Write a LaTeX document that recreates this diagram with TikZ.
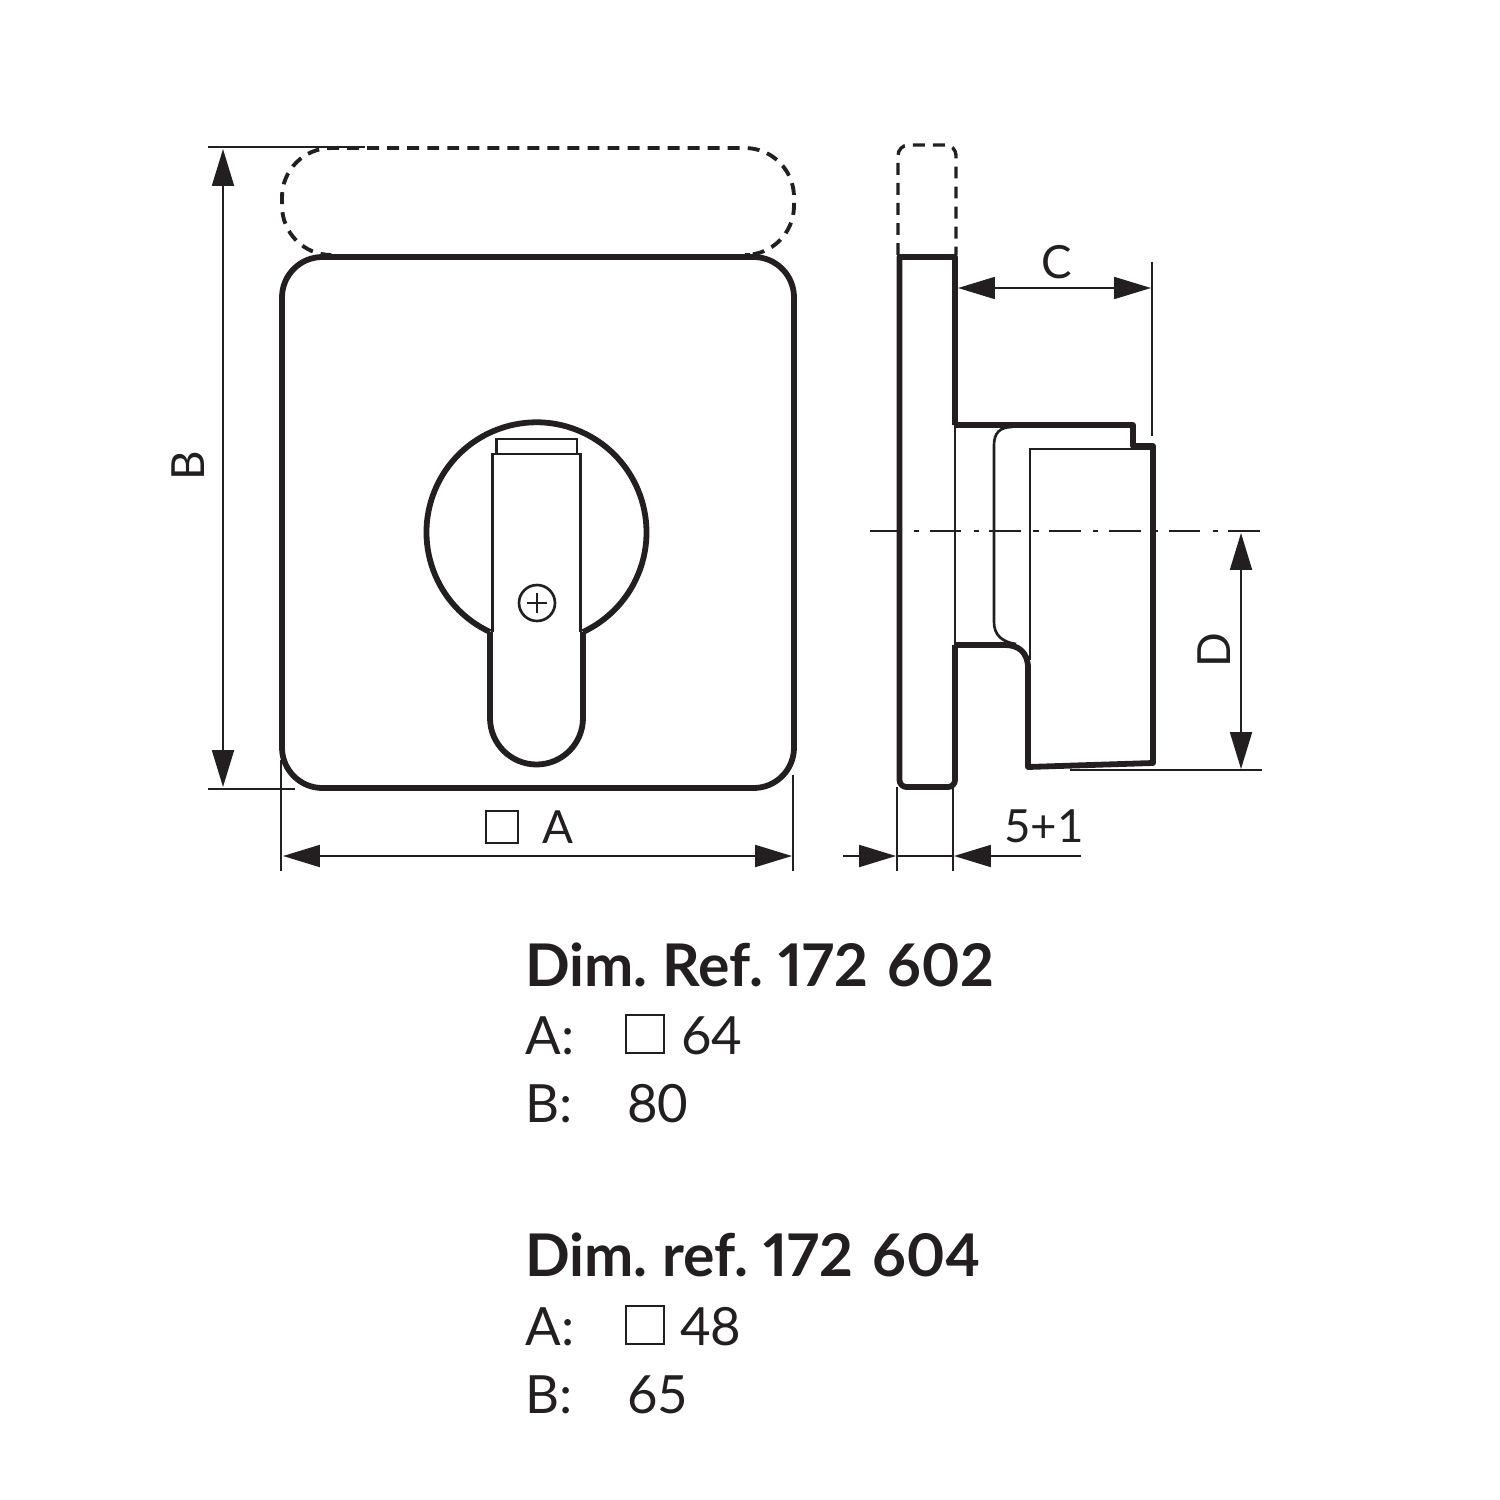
\documentclass[tikz,border=0pt]{standalone}
\usepackage{fontspec}
\setmainfont{Lato}
\newfontfamily\headfont{Lato}[Numbers=Proportional,WordSpace=0.7]
\usetikzlibrary{arrows.meta}
\definecolor{inkc}{HTML}{231F20}
\tikzset{
    outline/.style={draw=inkc, line width=3.3pt, line join=round},
    fineline/.style={draw=inkc, line width=1.5pt},
    hidden/.style={draw=inkc, line width=2.2pt, dash pattern=on 6.8pt off 4.6pt},
    extline/.style={draw=inkc, line width=1pt},
    dimline/.style={draw=inkc, line width=1.1pt, {Triangle[length=21pt,width=12.5pt]}-{Triangle[length=21pt,width=12.5pt]}},
    dimleft/.style={draw=inkc, line width=1.1pt, -{Triangle[length=21pt,width=12.5pt]}},
    axisline/.style={draw=inkc, line width=1.2pt, dash pattern=on 18pt off 7pt on 3pt off 6pt},
    letter/.style={inkc, font=\fontsize{26}{26}\selectfont, inner sep=0pt},
    head/.style={inkc, font=\fontsize{33.5}{33.5}\headfont\bfseries\selectfont, anchor=base west, inner sep=0pt},
    row/.style={inkc, font=\fontsize{30}{30}\selectfont, anchor=base west, inner sep=0pt},
    squarebox/.style={draw=inkc, line width=1.3pt, minimum size=22pt, inner sep=0pt}
}
\begin{document}
\begin{tikzpicture}[x=0.02cm, y=-0.02cm]
    \useasboundingbox (0,0) rectangle (1500,1500);
    % front view
    \draw[outline, rounded corners=23pt] (282,257) rectangle (794,788);
    \draw[hidden, rounded corners=28pt] (330,255) -- (282,255) -- (282,148) -- (794,148) -- (794,255) -- (750,255);
    \draw[outline] (490,632) arc[start angle=115, end angle=425, radius=110];
    \draw[outline] (490,632) -- (490,718) arc[start angle=180, end angle=0, radius=46.5] -- (583,632);
    \draw[fineline] (492.5,632) -- (492.5,454) -- (580.5,454) -- (580.5,632);
    \draw[fineline] (496.5,454) -- (496.5,439) -- (577,439) -- (577,454);
    \draw[fineline] (537,603) circle[radius=18];
    \draw[fineline] (527,603) -- (547,603) (537,593) -- (537,613);
    % side view
    \draw[outline] (955,425) -- (955,257) -- (899.5,257) [rounded corners=4pt] -- (899.5,787) -- (955,787) [sharp corners] -- (955,645);
    \draw[hidden, line width=1.9pt, rounded corners=6pt] (898,255) -- (898,145) -- (956,145) -- (956,255);
    \draw[outline] (955,425) -- (1133,425) -- (1133,446) -- (1153,446) -- (1153,763) -- (1028,767) -- (1028,668)
        .. controls (1028,652) and (1018,645) .. (1005,645) -- (955,645);
    \draw[fineline] (955,425) -- (955,645);
    \draw[fineline] (1012,427) .. controls (1000,427) and (994,433) .. (994,445) -- (994,622)
        .. controls (994,635) and (1002,642) .. (1016,644);
    \draw[fineline] (1030,660) -- (1030,449) -- (1150,449);
    \draw[axisline] (870,531) -- (1262,531);
    % dimensions of the front view
    \draw[extline] (208,147) -- (365,147);
    \draw[extline] (208,789) -- (295,789);
    \draw[extline] (281,760) -- (281,871);
    \draw[extline] (793,775) -- (793,871);
    \coordinate (bTop) at (223,149);
    \coordinate (bBot) at (223,787);
    \draw[dimline] (bTop) -- (bBot);
    \coordinate (aLeft) at (283,856);
    \coordinate (aRight) at (792,856);
    \draw[dimline] (aLeft) -- (aRight);
    \node[letter, rotate=90] (labelB) at (188,466) {B};
    \node[squarebox, minimum size=18.5pt] (boxA) at (502,827) {};
    \node[letter] (labelA) at (558,827) {A};
    % dimensions of the side view
    \draw[extline] (1152,262) -- (1152,436);
    \coordinate (cLeft) at (958,288);
    \coordinate (cRight) at (1151,288);
    \draw[dimline] (cLeft) -- (cRight);
    \node[letter] (labelC) at (1057,262) {C};
    \draw[extline] (1070,770) -- (1262,770);
    \coordinate (dTop) at (1241,533);
    \coordinate (dBot) at (1241,769);
    \draw[dimline] (dTop) -- (dBot);
    \node[letter, rotate=90] (labelD) at (1214,650) {D};
    \draw[extline] (897,787) -- (897,871);
    \draw[extline] (953,787) -- (953,871);
    \coordinate (tStart) at (843,856);
    \coordinate (tLeft) at (896,856);
    \coordinate (tRight) at (954,856);
    \coordinate (tEnd) at (1081,856);
    \draw[dimleft] (tStart) -- (tLeft);
    \draw[dimleft] (tEnd) -- (tRight);
    \draw[extline] (tLeft) -- (tRight);
    \node[letter] (labelT) at (1044,826) {5+1};
    % table of sizes
    \node[head] (headOne) at (525,986) {Dim. Ref. 172\,\,602};
    \node[row] (aOne) at (525,1054) {A:};
    \node[squarebox] (boxOne) at (645,1034) {};
    \node[row] (aValOne) at (681,1054) {64};
    \node[row] (bOne) at (525,1122) {B:};
    \node[row] (bValOne) at (627,1122) {80};
    \node[head] (headTwo) at (525,1276) {Dim. ref. 172\,\,604};
    \node[row] (aTwo) at (525,1345) {A:};
    \node[squarebox] (boxTwo) at (645,1325) {};
    \node[row] (aValTwo) at (680,1345) {48};
    \node[row] (bTwo) at (525,1413) {B:};
    \node[row] (bValTwo) at (627,1413) {65};
\end{tikzpicture}
\end{document}
